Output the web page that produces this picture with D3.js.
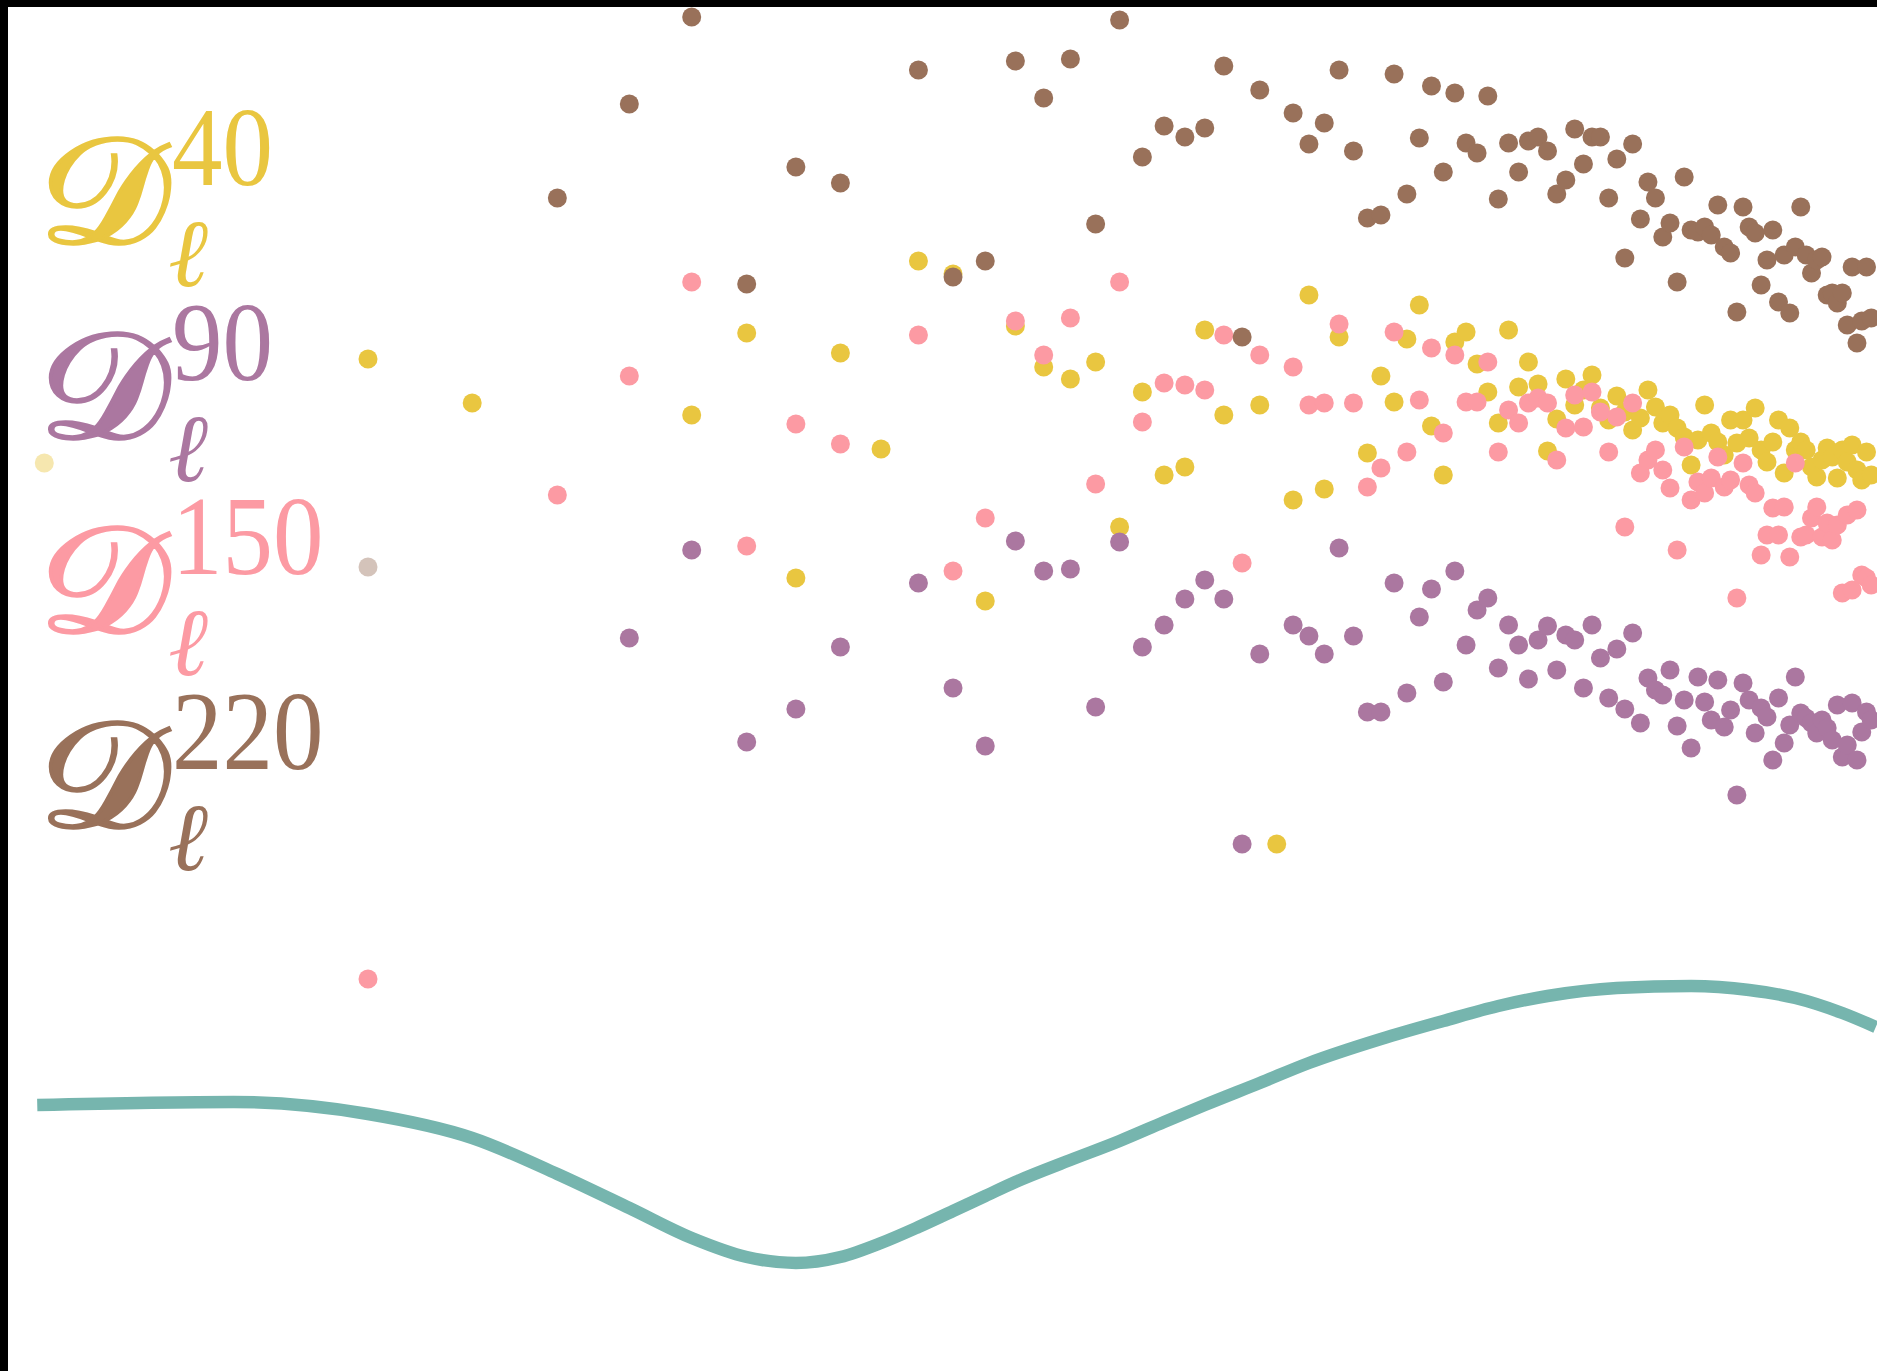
<!DOCTYPE html>
<html><head><meta charset="utf-8">
<script src="https://cdn.jsdelivr.net/npm/d3@7"></script>
<style>html,body{margin:0;padding:0;background:#fff;overflow:hidden}</style>
</head><body>
<svg id="c" width="1877" height="1371"></svg>
<script>
// multipole categories
const ells = [2,3,4,5,6,7,8,9,10,11,12,13,14,15,16,17,18,19,20,21,22,23,24,25,26,27,28,29,30,31,32,33,34,35,36,37,38,39,40,41,42,43,44,45,46,47,48,49,50,51,52,53,54,55,56,57,58,59,60,61,62,63,64,65,66,67,68,69,70,71,72,73,74,75,76,77,78,79,80,81,82,83,84,85,86,87,88,89,90,91,92,93,94,95,96,97,98,99,100];
const seriesLabels = ["40","90","150","220"];
const seriesColors = ["#e9c640","#ab77a0","#fc9aa3","#99715a"];
// values per ell (null = not shown)
const d40 = [90.8,null,101.2,96.8,null,null,95.6,103.8,79.3,101.8,92.2,111.0,109.7,77.0,104.5,100.4,99.2,100.9,84.4,97.9,89.6,90.4,104.1,95.6,null,96.6,52.7,87.1,107.6,88.2,103.4,null,91.8,99.5,96.9,103.2,106.6,94.5,89.6,102.9,103.9,100.7,97.9,94.8,104.1,98.4,100.9,98.7,92.0,95.2,99.2,96.6,98.1,99.6,96.3,95.1,97.5,95.9,94.1,95.3,98.1,96.4,94.8,95.6,94.3,93.4,90.6,93.1,96.6,93.8,92.9,91.6,95.1,92.8,95.1,93.3,96.3,92.1,90.9,92.9,95.1,89.8,94.3,92.1,92.9,92.1,90.4,89.4,91.1,92.3,91.4,89.3,92.1,90.9,92.6,90.1,89.1,91.9,89.6];
const d90 = [null,null,null,null,null,73.3,82.1,62.9,66.2,72.4,null,78.8,68.3,62.5,83.0,80.0,80.2,66.4,82.9,72.4,74.6,77.2,79.1,77.2,52.7,71.7,null,74.6,73.5,71.7,82.3,73.5,65.9,65.9,78.8,67.8,75.4,78.2,68.9,80.0,72.6,76.1,77.3,70.3,74.6,72.6,69.2,73.1,74.5,70.1,73.6,73.1,68.3,74.6,71.3,67.3,72.2,66.2,73.8,64.8,69.3,68.1,67.6,70.1,64.5,67.1,62.3,69.4,66.9,65.1,69.1,64.4,66.1,57.6,68.8,67.1,63.8,66.3,65.4,61.1,67.3,62.8,64.6,69.4,65.8,65.3,64.8,63.8,65.1,64.3,63.1,66.6,61.4,62.6,66.8,61.1,63.9,65.9,65.1];
const d150 = [null,null,39.2,null,87.6,99.5,108.9,82.5,94.7,92.7,null,103.6,80.0,85.3,105.0,101.6,105.3,88.7,108.9,94.9,98.8,98.6,98.1,103.6,80.8,101.6,null,100.4,96.6,96.8,104.7,96.8,88.4,90.3,103.9,91.9,97.1,102.3,93.8,101.6,96.9,96.9,100.9,91.9,96.1,94.8,96.8,97.3,96.8,91.1,94.3,97.6,94.4,97.9,95.9,91.9,95.4,84.4,96.8,89.8,91.1,92.1,90.1,88.3,82.1,92.4,87.1,88.9,87.8,89.3,91.4,88.4,89.1,77.3,90.8,88.6,87.8,81.6,83.6,86.3,83.6,86.4,81.4,90.8,83.4,83.6,85.3,86.4,83.4,84.8,83.1,84.6,77.8,85.6,78.1,86.1,79.6,79.3,78.6];
const d220 = [null,null,80.4,null,117.3,126.7,135.4,108.7,120.4,118.8,null,130.1,109.4,111.0,131.0,127.3,131.2,114.7,135.1,121.4,124.5,123.4,124.3,130.5,103.4,128.1,null,125.8,122.7,124.8,130.1,122.0,115.3,115.6,129.7,117.7,123.3,128.5,119.9,127.8,122.8,121.8,127.5,117.2,122.8,119.9,123.0,123.4,122.0,117.7,119.1,124.2,120.7,123.4,123.4,117.3,121.2,111.3,122.7,115.2,118.9,117.3,113.4,114.8,108.9,119.4,114.1,113.9,114.4,113.6,116.6,112.4,111.8,105.9,116.4,114.4,113.8,108.6,111.1,114.1,106.9,111.6,105.8,112.4,116.4,111.6,109.8,111.1,111.4,107.6,107.8,106.8,107.8,104.6,110.4,102.8,105.0,110.4,105.3];
// smooth reference curve
const lineEll = [1.97,3,4,5,6,7,8,9,10,11,12,13,14,15,16,18,20,22,24,27,30,35,40,45,50,58,68,77,85,94,101];
const lineD = [26.6,26.9,25.7,23.3,19.7,16.3,13.3,11.4,10.8,11.4,12.8,14.4,16.0,17.5,18.9,21.1,23.0,24.9,26.6,28.8,30.8,33.2,35.0,36.5,37.5,38.3,38.5,38.1,37.3,35.8,34.4];

const W = 1877, H = 1371;
const svg = d3.select("#c");
svg.append("rect").attr("width", W).attr("height", H).attr("fill", "#fff");

const x = d3.scaleLog().domain([2, 100]).range([44.3, 1871.2]);
const y = d3.scaleLinear().domain([0, 137.1]).range([H, 0]);

const seriesData = [d40, d90, d150, d220];
const faded = [[0, 2], [3, 4]]; // [series index, ell] drawn translucent

// curve
svg.append("path")
  .datum(lineEll.map((l, i) => [l, lineD[i]]))
  .attr("fill", "none")
  .attr("stroke", "#76b5ae")
  .attr("stroke-width", 12.5)
  .attr("d", d3.line().curve(d3.curveMonotoneX).x(d => x(d[0])).y(d => y(d[1])));

// dots
seriesData.forEach((vals, si) => {
  const pts = ells.map((l, i) => ({l, v: vals[i]})).filter(d => d.v !== null);
  svg.append("g").selectAll("circle").data(pts).join("circle")
    .attr("cx", d => x(d.l))
    .attr("cy", d => y(d.v))
    .attr("r", 9.5)
    .attr("fill", seriesColors[si])
    .attr("fill-opacity", d => faded.some(f => f[0] === si && f[1] === d.l) ? 0.42 : 1);
});

// labels
const lab = svg.append("g");
seriesLabels.forEach((s, i) => {
  const g = lab.append("g").attr("transform", `translate(0,${i * 194.5})`).attr("fill", seriesColors[i]);
  g.append("text").attr("x", 38).attr("y", 243)
    .attr("font-family", "'DejaVu Serif','Liberation Serif',serif")
    .attr("font-size", 150)
    .attr("textLength", 132).attr("lengthAdjust", "spacingAndGlyphs")
    .attr("stroke", seriesColors[i]).attr("stroke-width", 3.5)
    .text("\u{1D49F}");
  g.append("text").attr("x", 172).attr("y", 185)
    .attr("font-family", "'Liberation Serif',serif")
    .attr("font-size", 112)
    .attr("textLength", s.length * 50.5).attr("lengthAdjust", "spacingAndGlyphs")
    .text(s);
  g.append("text").attr("x", 168).attr("y", 286)
    .attr("font-family", "'Liberation Serif','DejaVu Serif',serif")
    .attr("font-style", "italic")
    .attr("font-size", 96).text("\u2113");
});

// frame edges
svg.append("rect").attr("x", 0).attr("y", 0).attr("width", W).attr("height", 7).attr("fill", "#000");
svg.append("rect").attr("x", 0).attr("y", 0).attr("width", 8).attr("height", H).attr("fill", "#000");
</script>
</body></html>
